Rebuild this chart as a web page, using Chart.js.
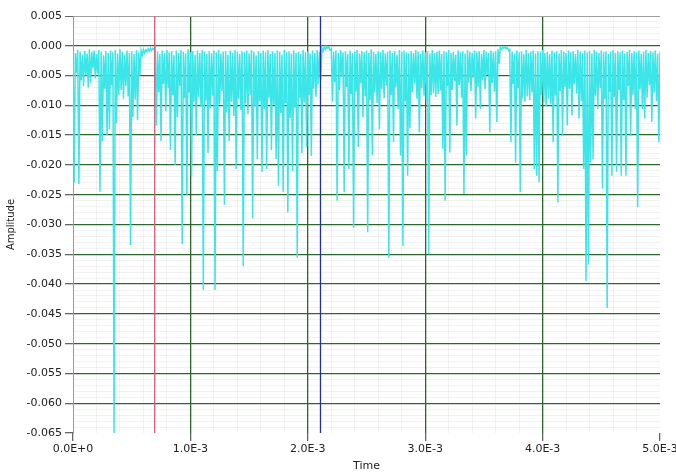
<!DOCTYPE html>
<html>
<head>
<meta charset="utf-8">
<script src="https://cdn.jsdelivr.net/npm/chart.js@4.4.0/dist/chart.umd.min.js"></script>
<style>
  html, body { margin: 0; padding: 0; background: #fff; }
  canvas { display: block; }
</style>
</head>
<body>
<canvas id="waveChart" width="676" height="476"></canvas>
<script>
// waveform: start time, sample interval, amplitudes
const t0 = 0;
const dt = 1e-5;
const amplitude = [
  -0.0008, -0.0230, -0.0012, -0.0045, -0.0007, -0.0232, -0.0010, -0.0058, -0.0015, -0.0068,
  -0.0009, -0.0050, -0.0013, -0.0070, -0.0006, -0.0062, -0.0011, -0.0038, -0.0008, -0.0055,
  -0.0014, -0.0047, -0.0007, -0.0245, -0.0010, -0.0160, -0.0016, -0.0072, -0.0009, -0.0150,
  -0.0012, -0.0140, -0.0008, -0.0066, -0.0011, -0.0650, -0.0007, -0.0130, -0.0013, -0.0082,
  -0.0006, -0.0074, -0.0010, -0.0089, -0.0015, -0.0068, -0.0008, -0.0085, -0.0012, -0.0335,
  -0.0009, -0.0120, -0.0014, -0.0090, -0.0007, -0.0125, -0.0011, -0.0050, -0.0008, -0.0016,
  -0.0006, -0.0012, -0.0007, -0.0010, -0.0005, -0.0009, -0.0004, -0.0008, -0.0004, -0.0006,
  -0.0003, -0.0134, -0.0010, -0.0078, -0.0014, -0.0160, -0.0008, -0.0064, -0.0012, -0.0110,
  -0.0007, -0.0071, -0.0011, -0.0175, -0.0009, -0.0083, -0.0016, -0.0200, -0.0008, -0.0120,
  -0.0012, -0.0067, -0.0007, -0.0333, -0.0010, -0.0088, -0.0013, -0.0250, -0.0006, -0.0079,
  -0.0011, -0.0220, -0.0009, -0.0095, -0.0015, -0.0150, -0.0008, -0.0086, -0.0012, -0.0102,
  -0.0007, -0.0410, -0.0010, -0.0092, -0.0014, -0.0180, -0.0009, -0.0105, -0.0012, -0.0084,
  -0.0008, -0.0410, -0.0011, -0.0210, -0.0007, -0.0098, -0.0013, -0.0076, -0.0010, -0.0267,
  -0.0009, -0.0112, -0.0015, -0.0160, -0.0008, -0.0094, -0.0012, -0.0118, -0.0007, -0.0207,
  -0.0010, -0.0089, -0.0014, -0.0108, -0.0009, -0.0370, -0.0011, -0.0097, -0.0008, -0.0115,
  -0.0013, -0.0082, -0.0007, -0.0290, -0.0010, -0.0101, -0.0016, -0.0190, -0.0009, -0.0093,
  -0.0012, -0.0212, -0.0008, -0.0106, -0.0011, -0.0207, -0.0007, -0.0087, -0.0014, -0.0175,
  -0.0009, -0.0099, -0.0012, -0.0190, -0.0008, -0.0235, -0.0010, -0.0113, -0.0015, -0.0245,
  -0.0007, -0.0096, -0.0011, -0.0280, -0.0009, -0.0121, -0.0013, -0.0210, -0.0008, -0.0104,
  -0.0012, -0.0356, -0.0010, -0.0088, -0.0014, -0.0180, -0.0007, -0.0095, -0.0011, -0.0170,
  -0.0009, -0.0083, -0.0013, -0.0185, -0.0008, -0.0072, -0.0012, -0.0086, -0.0007, -0.0065,
  -0.0010, -0.0058, -0.0004, -0.0009, -0.0002, -0.0006, -0.0001, -0.0004, -0.0002, -0.0007,
  -0.0005, -0.0094, -0.0010, -0.0061, -0.0008, -0.0260, -0.0012, -0.0074, -0.0007, -0.0052,
  -0.0011, -0.0246, -0.0009, -0.0069, -0.0014, -0.0207, -0.0008, -0.0081, -0.0012, -0.0306,
  -0.0010, -0.0077, -0.0007, -0.0170, -0.0013, -0.0063, -0.0009, -0.0120, -0.0011, -0.0085,
  -0.0008, -0.0313, -0.0012, -0.0091, -0.0006, -0.0184, -0.0010, -0.0079, -0.0014, -0.0096,
  -0.0009, -0.0140, -0.0011, -0.0073, -0.0007, -0.0088, -0.0013, -0.0067, -0.0010, -0.0356,
  -0.0008, -0.0082, -0.0012, -0.0162, -0.0009, -0.0070, -0.0015, -0.0106, -0.0007, -0.0184,
  -0.0010, -0.0336, -0.0008, -0.0093, -0.0011, -0.0218, -0.0013, -0.0139, -0.0009, -0.0078,
  -0.0012, -0.0065, -0.0007, -0.0089, -0.0010, -0.0145, -0.0014, -0.0071, -0.0008, -0.0084,
  -0.0011, -0.0092, -0.0009, -0.0350, -0.0013, -0.0083, -0.0007, -0.0079, -0.0012, -0.0086,
  -0.0010, -0.0081, -0.0008, -0.0075, -0.0014, -0.0173, -0.0009, -0.0260, -0.0011, -0.0068,
  -0.0007, -0.0179, -0.0012, -0.0074, -0.0010, -0.0059, -0.0015, -0.0134, -0.0008, -0.0066,
  -0.0011, -0.0087, -0.0009, -0.0249, -0.0013, -0.0184, -0.0007, -0.0062, -0.0010, -0.0076,
  -0.0012, -0.0054, -0.0008, -0.0122, -0.0011, -0.0069, -0.0009, -0.0106, -0.0014, -0.0058,
  -0.0007, -0.0073, -0.0010, -0.0049, -0.0012, -0.0145, -0.0008, -0.0063, -0.0011, -0.0077,
  -0.0009, -0.0128, -0.0006, -0.0030, -0.0003, -0.0006, -0.0002, -0.0004, -0.0002, -0.0005,
  -0.0003, -0.0008, -0.0006, -0.0162, -0.0010, -0.0064, -0.0013, -0.0196, -0.0008, -0.0071,
  -0.0011, -0.0246, -0.0009, -0.0088, -0.0014, -0.0094, -0.0007, -0.0085, -0.0012, -0.0091,
  -0.0010, -0.0078, -0.0008, -0.0207, -0.0013, -0.0218, -0.0009, -0.0229, -0.0011, -0.0083,
  -0.0007, -0.0095, -0.0012, -0.0102, -0.0010, -0.0089, -0.0014, -0.0098, -0.0008, -0.0162,
  -0.0011, -0.0084, -0.0009, -0.0263, -0.0013, -0.0076, -0.0007, -0.0151, -0.0010, -0.0069,
  -0.0012, -0.0134, -0.0008, -0.0072, -0.0011, -0.0117, -0.0009, -0.0065, -0.0014, -0.0080,
  -0.0007, -0.0122, -0.0010, -0.0093, -0.0012, -0.0207, -0.0008, -0.0395, -0.0011, -0.0367,
  -0.0009, -0.0196, -0.0013, -0.0190, -0.0007, -0.0084, -0.0010, -0.0106, -0.0012, -0.0071,
  -0.0008, -0.0240, -0.0011, -0.0089, -0.0009, -0.0440, -0.0014, -0.0078, -0.0010, -0.0218,
  -0.0007, -0.0086, -0.0012, -0.0212, -0.0009, -0.0074, -0.0011, -0.0218, -0.0008, -0.0091,
  -0.0013, -0.0218, -0.0010, -0.0068, -0.0007, -0.0151, -0.0012, -0.0082, -0.0009, -0.0106,
  -0.0011, -0.0271, -0.0008, -0.0073, -0.0014, -0.0106, -0.0010, -0.0122, -0.0007, -0.0087,
  -0.0012, -0.0066, -0.0009, -0.0128, -0.0011, -0.0079, -0.0008, -0.0093, -0.0013, -0.0162,
  -0.0010
];

// cursors (time positions) and their colours
const cursorTimes = [0.000696, 0.002108];
const cursorColors = ['#de5a72', '#1f2fa6'];

const xMin = 0, xMax = 0.005;
const yMin = -0.065, yMax = 0.005;

var waveData = amplitude.map(function (v, i) { return { x: t0 + i * dt, y: v }; });

var datasets = [{
  label: 'Amplitude',
  data: waveData,
  borderColor: '#3be5e8',
  borderWidth: 1.5,
  pointRadius: 0,
  tension: 0,
  order: 2
}];
cursorTimes.forEach(function (t, i) {
  datasets.push({
    label: 'cursor' + i,
    data: [{ x: t, y: yMin }, { x: t, y: yMax }],
    borderColor: cursorColors[i],
    borderWidth: 1.3,
    pointRadius: 0,
    order: 1
  });
});

function isMajor(v, step) {
  var r = v / step;
  return Math.abs(r - Math.round(r)) < 1e-6;
}

var ctx = document.getElementById('waveChart').getContext('2d');
new Chart(ctx, {
  type: 'line',
  data: { datasets: datasets },
  options: {
    responsive: false,
    animation: false,
    parsing: false,
    events: [],
    layout: { padding: { left: 0, top: 16, right: 16, bottom: 0 } },
    plugins: { legend: { display: false }, tooltip: { enabled: false } },
    scales: {
      x: {
        type: 'linear',
        min: xMin,
        max: xMax,
        border: { display: false },
        grid: {
          color: function (c) {
            var v = c.tick.value;
            if (isMajor(v, 0.001)) {
              return (v <= 1e-9 || v >= xMax - 1e-9) ? 'rgba(0,0,0,0)' : '#2c672c';
            }
            return 'rgba(0,0,0,0.05)';
          },
          lineWidth: function (c) { return isMajor(c.tick.value, 0.001) ? 1.3 : 1; },
          tickColor: function (c) { return isMajor(c.tick.value, 0.001) ? '#666' : 'rgba(0,0,0,0)'; },
          tickLength: 8
        },
        ticks: {
          stepSize: 0.0002,
          autoSkip: false,
          maxRotation: 0,
          padding: 2,
          color: '#222',
          font: { family: 'DejaVu Sans', size: 11 },
          callback: function (v) {
            return isMajor(v, 0.001) ? v.toExponential(1).toUpperCase() : '';
          }
        },
        title: {
          display: true,
          text: 'Time',
          color: '#222',
          font: { family: 'DejaVu Sans', size: 11 },
          padding: { top: 0, bottom: 3 }
        },
        afterFit: function (scale) {
          scale.height = 43;
          scale.paddingLeft = 0;
          scale.paddingRight = 0;
        }
      },
      y: {
        type: 'linear',
        min: yMin,
        max: yMax,
        border: { display: true, color: '#9a9a9a', width: 1 },
        grid: {
          color: function (c) {
            var v = c.tick.value;
            if (isMajor(v, 0.005)) {
              if (v >= yMax - 1e-9) return '#a0a0a0';
              if (v <= yMin + 1e-9) return 'rgba(0,0,0,0)';
              return '#2c672c';
            }
            return 'rgba(0,0,0,0.05)';
          },
          lineWidth: function (c) {
            var v = c.tick.value;
            if (isMajor(v, 0.005) && v < yMax - 1e-9) return 1.3;
            return 1;
          },
          tickColor: function (c) { return isMajor(c.tick.value, 0.005) ? '#666' : 'rgba(0,0,0,0)'; },
          tickLength: 8
        },
        ticks: {
          stepSize: 0.001,
          autoSkip: false,
          padding: 3,
          color: '#222',
          font: { family: 'DejaVu Sans', size: 11 },
          callback: function (v) {
            return isMajor(v, 0.005) ? v.toFixed(3) : '';
          }
        },
        title: {
          display: true,
          text: 'Amplitude',
          color: '#222',
          font: { family: 'DejaVu Sans', size: 10 },
          padding: { top: 5, bottom: 0 }
        },
        afterFit: function (scale) {
          scale.width = 73;
          scale.paddingTop = 0;
          scale.paddingBottom = 0;
        }
      }
    }
  }
});
</script>
</body>
</html>
